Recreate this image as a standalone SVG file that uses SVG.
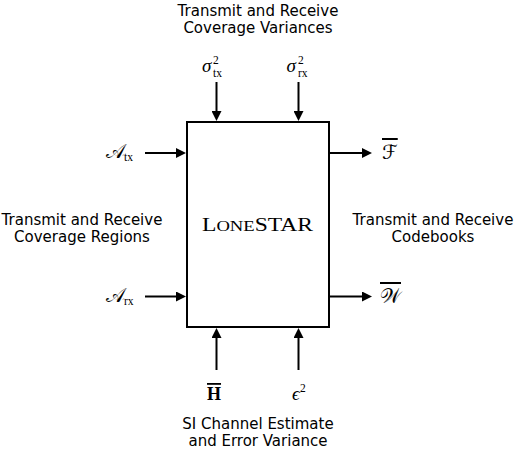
<svg xmlns="http://www.w3.org/2000/svg" width="516" height="450" viewBox="0 0 516 450">
<defs>
<marker id="ah" markerUnits="userSpaceOnUse" markerWidth="10" markerHeight="10" refX="1" refY="5" orient="auto">
<path d="M0,0 L10,5 L0,10 Z" fill="#000"/>
</marker>
<style>
.lbl{font-family:"DejaVu Sans",sans-serif;font-size:15px;fill:#000;text-anchor:middle}
.m{font-family:"Liberation Serif","DejaVu Serif",serif;font-style:italic;font-size:19px;fill:#000}
.cal{font-family:"DejaVu Sans","DejaVu Serif","Liberation Serif",serif;font-size:20px;fill:#000}
.s{font-family:"Liberation Serif",serif;font-size:11.5px;font-style:normal}
.ar{stroke:#000;stroke-width:2;fill:none;marker-end:url(#ah)}
</style>
</defs>
<rect width="516" height="450" fill="#fff"/>
<g id="connectors">
<line class="ar" x1="216.5" y1="82" x2="216.5" y2="112"/>
<line class="ar" x1="298.5" y1="82" x2="298.5" y2="112"/>
<line class="ar" x1="145" y1="153" x2="177" y2="153"/>
<line class="ar" x1="145" y1="296.5" x2="177" y2="296.5"/>
<line class="ar" x1="330" y1="153" x2="363" y2="153"/>
<line class="ar" x1="330" y1="296.5" x2="363" y2="296.5"/>
<line class="ar" x1="216.5" y1="370" x2="216.5" y2="337"/>
<line class="ar" x1="298.5" y1="370" x2="298.5" y2="337"/>
</g>
<g id="lonestar">
<rect x="187" y="122" width="142" height="205" fill="#fff" stroke="#000" stroke-width="2"/>
<text x="202" y="231" textLength="111" lengthAdjust="spacingAndGlyphs" font-family="Liberation Serif,serif" font-size="19" fill="#000">L<tspan font-size="15">ONE</tspan>STAR</text>
</g>
<g id="variances">
<text class="lbl" x="258" y="16">Transmit and Receive</text>
<text class="lbl" x="258" y="33">Coverage Variances</text>
<text class="m" x="202" y="72">σ<tspan class="s" x="213" y="63.5">2</tspan><tspan class="s" x="213" y="76.5">tx</tspan></text>
<text class="m" x="286.5" y="72">σ<tspan class="s" x="298" y="63.5">2</tspan><tspan class="s" x="298" y="76.5">rx</tspan></text>
</g>
<g id="regions">
<text class="lbl" x="82" y="225">Transmit and Receive</text>
<text class="lbl" x="82" y="242">Coverage Regions</text>
<text class="cal" x="106" y="158">𝒜<tspan class="s" font-size="12.5" x="124" y="161">tx</tspan></text>
<text class="cal" x="106" y="302">𝒜<tspan class="s" font-size="12.5" x="124" y="305">rx</tspan></text>
</g>
<g id="codebooks">
<text class="lbl" x="433" y="225">Transmit and Receive</text>
<text class="lbl" x="433" y="242">Codebooks</text>
<text class="cal" x="382" y="159" text-decoration="overline">ℱ</text>
<text class="cal" x="380" y="303" text-decoration="overline">𝒲</text>
</g>
<g id="channel">
<text class="lbl" x="258" y="429">SI Channel Estimate</text>
<text class="lbl" x="258" y="446">and Error Variance</text>
<text x="207" y="400" font-family="Liberation Serif,serif" font-weight="bold" font-size="18" fill="#000" text-decoration="overline">H</text>
<text class="m" x="292" y="400">ϵ<tspan class="s" font-size="12.5" x="300" y="392">2</tspan></text>
</g>
</svg>
